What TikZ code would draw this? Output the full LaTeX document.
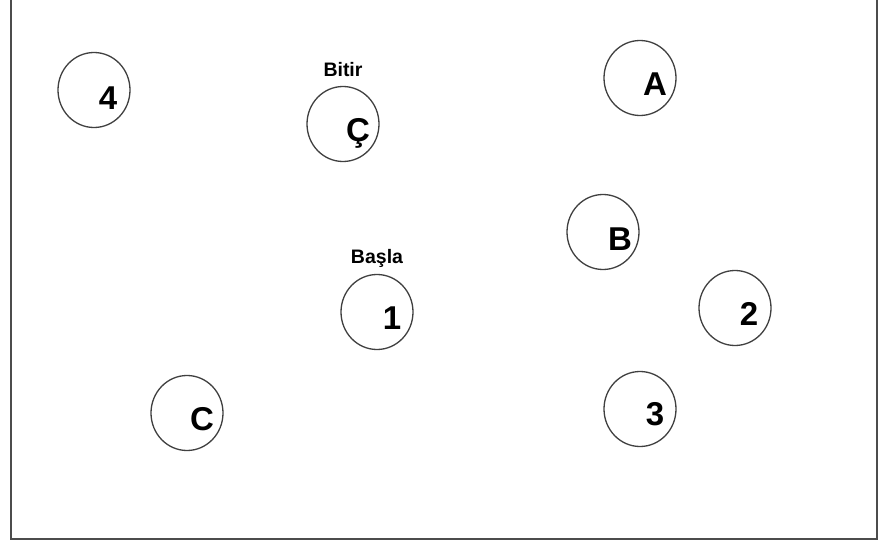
\documentclass[tikz,border=0pt]{standalone}
\usepackage{fontspec}
\setmainfont{Liberation Sans}
\usetikzlibrary{positioning, shapes.geometric}

\begin{document}
\begin{tikzpicture}[x=1pt, y=-1pt,
        yer/.style={ellipse, draw=black!75, line width=1.3pt, minimum width=72pt, minimum height=75pt, inner sep=0pt},
        ad/.style={inner sep=0pt, text depth=0pt, font=\fontsize{33}{33}\selectfont\bfseries},
        etiket/.style={inner sep=0pt, text depth=0pt, font=\fontsize{19.5}{19.5}\selectfont\bfseries}]
        \useasboundingbox (0,0) rectangle (878,546);
        \draw[line width=2pt, black!70] (11,0) -- (11,539) -- (876.5,539) -- (876.5,0);

        \node[yer] (dort) at (94,90) {};
        \node[ad] (dort-t) at ([shift={(14,8)}]dort.center) {4};
        \node[yer] (cc) at (343,124) {};
        \node[ad] (cc-t) at ([shift={(15,6)}]cc.center) {Ç};
        \node[yer] (a) at (640,78) {};
        \node[ad] (a-t) at ([shift={(15,6)}]a.center) {A};
        \node[yer] (b) at (603,232) {};
        \node[ad] (b-t) at ([shift={(17,7)}]b.center) {B};
        \node[yer] (bir) at (377,312) {};
        \node[ad] (bir-t) at ([shift={(15,6)}]bir.center) {1};
        \node[yer] (iki) at (735,308) {};
        \node[ad] (iki-t) at ([shift={(14,6)}]iki.center) {2};
        \node[yer] (uc) at (640,409) {};
        \node[ad] (uc-t) at ([shift={(15,5)}]uc.center) {3};
        \node[yer] (c) at (187,413) {};
        \node[ad] (c-t) at ([shift={(15,6)}]c.center) {C};

        \node[etiket, above=9pt of cc] (bitir) {Bitir};
        \node[etiket, above=10pt of bir] (basla) {Başla};
      \end{tikzpicture}
\end{document}
